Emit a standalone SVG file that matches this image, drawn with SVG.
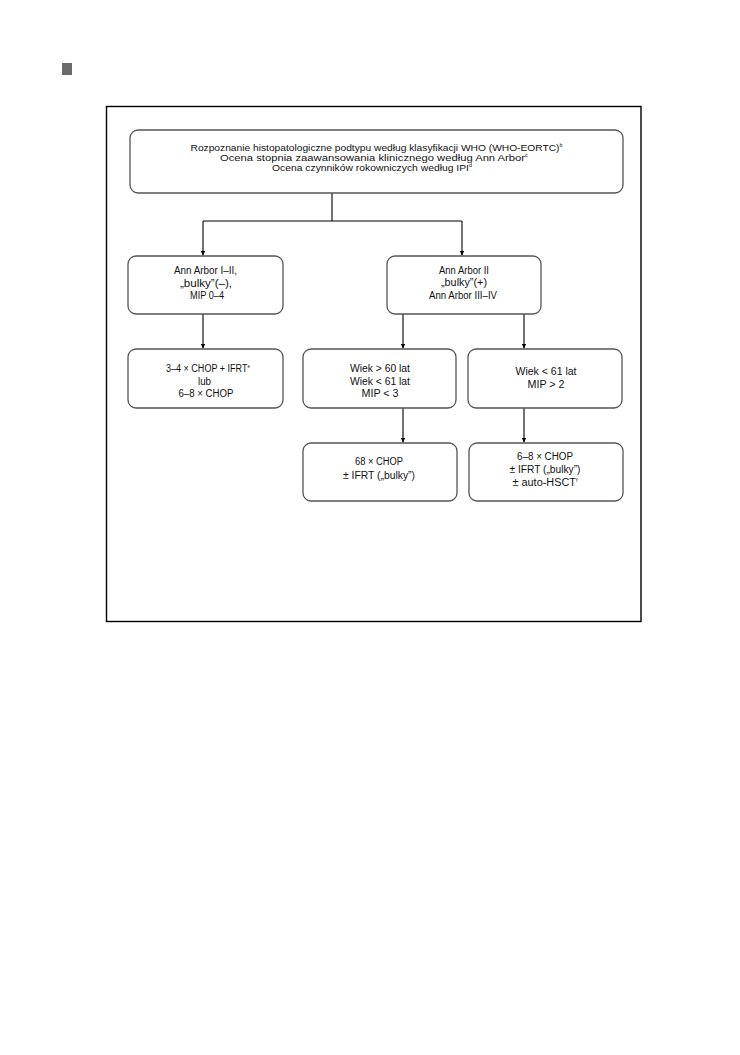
<svg xmlns="http://www.w3.org/2000/svg" width="740" height="1055" viewBox="0 0 740 1055">
<defs>
<marker id="arr" markerWidth="6" markerHeight="6" refX="5" refY="3" orient="auto" markerUnits="userSpaceOnUse">
<path d="M0,0.6 L5,3 L0,5.4 Z" fill="#000"/>
</marker>
<style>
.box{fill:#fff;stroke:#555;stroke-width:1.3}
.t{font-family:"Liberation Sans",Arial,sans-serif;font-size:10px;fill:#111;text-anchor:middle}
.ts{font-family:"Liberation Sans",Arial,sans-serif;font-size:9.5px;fill:#111;text-anchor:middle}
.sup{font-size:5px}
.c{stroke:#000;stroke-width:1.1;fill:none}
</style>
</defs>
<rect x="0" y="0" width="740" height="1055" fill="#fff"/>
<rect x="62" y="63" width="10" height="12" fill="#6b6b6b"/>
<rect x="106.5" y="106.5" width="534.5" height="515" fill="none" stroke="#000" stroke-width="1.4"/>

<g id="connectors">
<path class="c" d="M332,193 V221 M203,221 H462"/>
<path class="c" d="M203,221 V255.5" marker-end="url(#arr)"/>
<path class="c" d="M462,221 V255.5" marker-end="url(#arr)"/>
<path class="c" d="M203,314 V348.5" marker-end="url(#arr)"/>
<path class="c" d="M403,314 V348.5" marker-end="url(#arr)"/>
<path class="c" d="M524,314 V348.5" marker-end="url(#arr)"/>
<path class="c" d="M403,408 V442.5" marker-end="url(#arr)"/>
<path class="c" d="M524,408 V442.5" marker-end="url(#arr)"/>
</g>

<g id="n-top">
<rect class="box" x="130" y="130" width="493" height="63" rx="8"/>
<text class="ts" x="376.5" y="150.5" textLength="372" lengthAdjust="spacingAndGlyphs">Rozpoznanie histopatologiczne podtypu według klasyfikacji WHO (WHO-EORTC)<tspan class="sup" dy="-3.5">b</tspan></text>
<text class="ts" x="374" y="160.5" textLength="308" lengthAdjust="spacingAndGlyphs">Ocena stopnia zaawansowania klinicznego według Ann Arbor<tspan class="sup" dy="-3.5">c</tspan></text>
<text class="ts" x="372" y="170.5" textLength="200" lengthAdjust="spacingAndGlyphs">Ocena czynników rokowniczych według IPI<tspan class="sup" dy="-3.5">d</tspan></text>
</g>

<g id="n-left1">
<rect class="box" x="128" y="256" width="155" height="58" rx="8"/>
<text class="t" x="205.5" y="274" textLength="63" lengthAdjust="spacingAndGlyphs">Ann Arbor I–II,</text>
<text class="t" x="206" y="286.5" textLength="52" lengthAdjust="spacingAndGlyphs">„bulky”(–),</text>
<text class="t" x="207" y="299" textLength="34" lengthAdjust="spacingAndGlyphs">MIP 0–4</text>
</g>

<g id="n-right1">
<rect class="box" x="387" y="256" width="154" height="58" rx="8"/>
<text class="t" x="464" y="273.5" textLength="50" lengthAdjust="spacingAndGlyphs">Ann Arbor II</text>
<text class="t" x="464" y="286" textLength="46" lengthAdjust="spacingAndGlyphs">„bulky”(+)</text>
<text class="t" x="463" y="298.5" textLength="68" lengthAdjust="spacingAndGlyphs">Ann Arbor III–IV</text>
</g>

<g id="n-left2">
<rect class="box" x="128" y="349" width="155" height="59" rx="8"/>
<text class="t" x="208" y="372" textLength="84" lengthAdjust="spacingAndGlyphs">3–4 × CHOP + IFRT<tspan class="sup" dy="-4">e</tspan></text>
<text class="t" x="204.5" y="384.5" textLength="13" lengthAdjust="spacingAndGlyphs">lub</text>
<text class="t" x="206" y="397" textLength="55" lengthAdjust="spacingAndGlyphs">6–8 × CHOP</text>
</g>

<g id="n-mid2">
<rect class="box" x="303" y="349" width="153" height="59" rx="8"/>
<text class="t" x="380" y="372" textLength="60" lengthAdjust="spacingAndGlyphs">Wiek &gt; 60 lat</text>
<text class="t" x="380" y="384.5" textLength="60" lengthAdjust="spacingAndGlyphs">Wiek &lt; 61 lat</text>
<text class="t" x="380" y="397" textLength="37" lengthAdjust="spacingAndGlyphs">MIP &lt; 3</text>
</g>

<g id="n-right2">
<rect class="box" x="468" y="349" width="154" height="59" rx="8"/>
<text class="t" x="546" y="375" textLength="61" lengthAdjust="spacingAndGlyphs">Wiek &lt; 61 lat</text>
<text class="t" x="546" y="387.5" textLength="37" lengthAdjust="spacingAndGlyphs">MIP &gt; 2</text>
</g>

<g id="n-mid3">
<rect class="box" x="303" y="443" width="154" height="58" rx="8"/>
<text class="t" x="379" y="465" textLength="48" lengthAdjust="spacingAndGlyphs">68 × CHOP</text>
<text class="t" x="379" y="478.5" textLength="72" lengthAdjust="spacingAndGlyphs">± IFRT („bulky”)</text>
</g>

<g id="n-right3">
<rect class="box" x="469" y="443" width="154" height="58" rx="8"/>
<text class="t" x="545" y="460" textLength="56" lengthAdjust="spacingAndGlyphs">6–8 × CHOP</text>
<text class="t" x="545" y="472.5" textLength="71" lengthAdjust="spacingAndGlyphs">± IFRT („bulky”)</text>
<text class="t" x="545" y="485.5" textLength="65" lengthAdjust="spacingAndGlyphs">± auto-HSCT<tspan class="sup" dy="-4">f</tspan></text>
</g>
</svg>
